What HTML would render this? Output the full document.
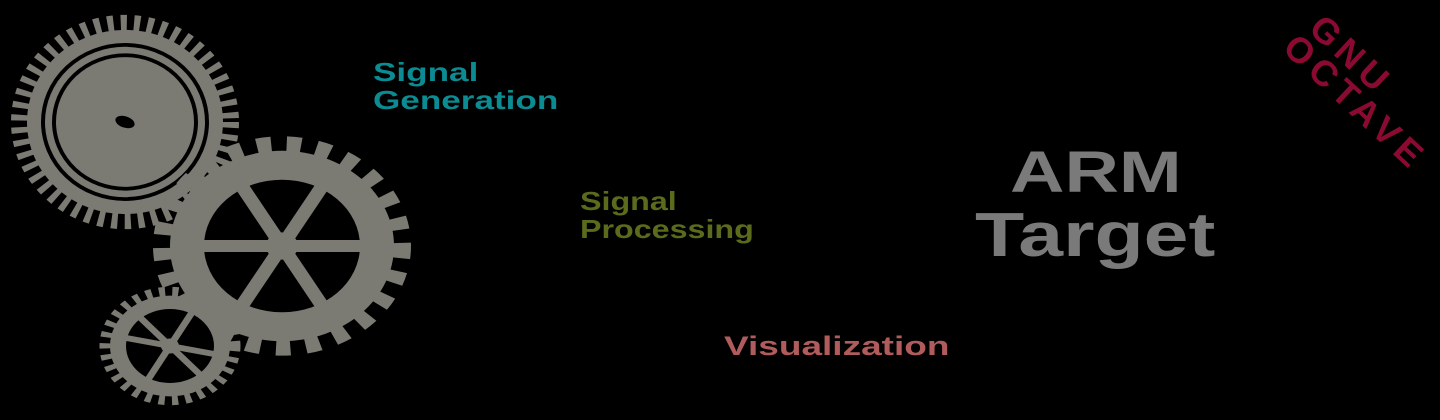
<!DOCTYPE html>
<html><head><meta charset="utf-8"><style>
html,body{margin:0;padding:0;background:#000;}
#c{position:relative;width:1440px;height:420px;overflow:hidden;background:#000;font-family:"Liberation Sans",sans-serif;font-weight:bold;}
.t{position:absolute;white-space:nowrap;line-height:1;transform-origin:0 0;}
</style></head><body><div id="c">
<svg width="1440" height="420" style="position:absolute;left:0;top:0">
 <g fill="#7b7b73" stroke="none">
  <g transform="translate(125,122) scale(1,0.94)">
   <circle r="103" fill="none" stroke="#7b7b73" stroke-width="22" stroke-dasharray="6 7"/>
   <circle r="98"/>
   <circle r="82" fill="none" stroke="#000" stroke-width="4"/>
   <circle r="71" fill="none" stroke="#000" stroke-width="4"/>
   <ellipse rx="10" ry="6" fill="#000" transform="rotate(20)"/>
  </g>
  <g transform="translate(282,246) scale(1,0.85)">
   <circle r="116" fill="none" stroke="#7b7b73" stroke-width="26" stroke-dasharray="14 15"/>
   <circle r="112"/>
   <circle r="78" fill="#000"/>
   <g stroke="#7b7b73" stroke-width="14">
    <line x1="-80" y1="0" x2="80" y2="0"/>
    <line x1="-40" y1="-70" x2="40" y2="70"/>
    <line x1="40" y1="-70" x2="-40" y2="70"/>
   </g>
   <circle r="16"/>
  </g>
  <g transform="translate(170,346) scale(1,0.84)">
   <circle r="63" fill="none" stroke="#7b7b73" stroke-width="15" stroke-dasharray="6 7"/>
   <circle r="60"/>
   <circle r="44" fill="#000"/>
   <g stroke="#7b7b73" stroke-width="7">
    <line x1="-46" y1="-10" x2="46" y2="10"/>
    <line x1="-22" y1="40" x2="22" y2="-40"/>
    <line x1="-30" y1="-34" x2="30" y2="34"/>
   </g>
   <circle r="9"/>
  </g>
 </g>
</svg>
<div class="t" style="left:373px;top:58px;font-size:26px;color:#0b8b92;line-height:28px;transform:scaleX(1.35);">Signal<br>Generation</div>
<div class="t" style="left:580px;top:187px;font-size:26px;color:#5a6b1c;line-height:28px;transform:scaleX(1.24);">Signal<br>Processing</div>
<div class="t" style="left:724px;top:333px;font-size:27px;color:#b15c5c;transform:scaleX(1.37);">Visualization</div>
<div class="t" style="left:1010px;top:144px;font-size:58px;color:#7a7a7a;transform:scaleX(1.3);">ARM</div>
<div class="t" style="left:975px;top:205px;font-size:62px;color:#7a7a7a;transform:scaleX(1.3);">Target</div>
<div class="t" style="left:1322px;top:6px;font-size:36px;color:#8a0a32;transform:rotate(43deg);line-height:32px;letter-spacing:6px;">
 <span style="margin-left:6px">GNU</span><br>OCTAVE</div>
</div></body></html>
